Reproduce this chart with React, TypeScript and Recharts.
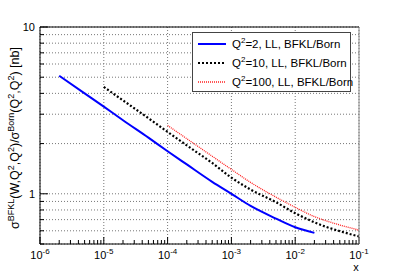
import { CartesianGrid, Legend, Line, LineChart, XAxis, YAxis } from 'recharts';

const xValues = [2e-6, 5e-6, 1e-5, 2e-5, 5e-5, 1e-4, 2e-4, 5e-4, 1e-3, 2e-3, 5e-3, 1e-2, 2e-2, 3e-2, 5e-2, 1e-1];
const q2Values = [5.1, 4.0, 3.33, 2.76, 2.17, 1.8, 1.5, 1.18, 1.0, 0.845, 0.71, 0.63, 0.583, null, null, null];
const q10Values = [null, null, 4.37, 3.63, 2.84, 2.35, 1.95, 1.53, 1.25, 1.06, 0.89, 0.765, 0.675, 0.635, 0.597, 0.555];
const q100Values = [null, null, null, null, null, 2.57, 2.14, 1.68, 1.4, 1.17, 0.955, 0.83, 0.73, 0.69, 0.65, 0.605];

const xDecades = [1e-6, 1e-5, 1e-4, 1e-3, 1e-2, 1e-1];
const xTicks = [
  1e-6, 2e-6, 3e-6, 4e-6, 5e-6, 6e-6, 7e-6, 8e-6, 9e-6,
  1e-5, 2e-5, 3e-5, 4e-5, 5e-5, 6e-5, 7e-5, 8e-5, 9e-5,
  1e-4, 2e-4, 3e-4, 4e-4, 5e-4, 6e-4, 7e-4, 8e-4, 9e-4,
  1e-3, 2e-3, 3e-3, 4e-3, 5e-3, 6e-3, 7e-3, 8e-3, 9e-3,
  1e-2, 2e-2, 3e-2, 4e-2, 5e-2, 6e-2, 7e-2, 8e-2, 9e-2,
  1e-1,
];
const yTicks = [0.5, 0.6, 0.7, 0.8, 0.9, 1, 2, 3, 4, 5, 6, 7, 8, 9, 10];
const yLabels = [1, 10];

const series = [
  { key: 'q2', label: '=2, LL, BFKL/Born', color: '#0000ff', width: 2, dash: undefined },
  { key: 'q10', label: '=10, LL, BFKL/Born', color: '#000000', width: 2.2, dash: '2 2' },
  { key: 'q100', label: '=100, LL, BFKL/Born', color: '#ff2020', width: 1.3, dash: '1 1' },
];

const data = xValues.map((x, i) => ({ x, q2: q2Values[i], q10: q10Values[i], q100: q100Values[i] }));

const isDecade = (v: number) => Math.abs(Math.log10(v) - Math.round(Math.log10(v))) < 1e-6;

function XTick({ x, y, payload }: any) {
  const v = payload.value;
  const major = isDecade(v);
  return (
    <g>
      <line x1={x} x2={x} y1={y} y2={y - (major ? 7 : 4)} stroke="#000" />
      {major && (
        <text x={x} y={y + 15} textAnchor="middle" fontSize={11} fill="#000">
          10<tspan dy={-5} fontSize={8}>{Math.round(Math.log10(v))}</tspan>
        </text>
      )}
    </g>
  );
}

function YTick({ x, y, payload }: any) {
  const v = payload.value;
  const major = isDecade(v);
  return (
    <g>
      <line x1={x} x2={x + (major ? 8 : 4)} y1={y} y2={y} stroke="#000" />
      {yLabels.includes(v) && (
        <text x={x - 5} y={y + 4} textAnchor="end" fontSize={11} fill="#000">
          {v}
        </text>
      )}
    </g>
  );
}

function LegendBox() {
  return (
    <div style={{ border: '1px solid #444', background: '#fff', width: 159, height: 60, boxSizing: 'border-box', padding: '1px 0 0 4px' }}>
      {series.map((s) => (
        <div key={s.key} style={{ display: 'flex', alignItems: 'center', height: 19, fontSize: 11.5, color: '#000', whiteSpace: 'nowrap' }}>
          <svg width={30} height={6} style={{ marginRight: 5, flex: 'none' }}>
            <line x1={1} x2={29} y1={3} y2={3} stroke={s.color} strokeWidth={s.width} strokeDasharray={s.dash} />
          </svg>
          <span>
            Q<sup style={{ fontSize: 8, lineHeight: 0 }}>2</sup>
            {s.label}
          </span>
        </div>
      ))}
    </div>
  );
}

export default function App() {
  return (
    <div style={{ position: 'fixed', left: 0, top: 0, width: 399, height: 272, background: '#fff', fontFamily: '"Liberation Sans", Arial, sans-serif' }}>
      <LineChart width={399} height={272} data={data} margin={{ top: 27, right: 40, bottom: 0, left: 0 }}>
        <CartesianGrid stroke="#777" strokeDasharray="1 2" verticalValues={xDecades} horizontalValues={yTicks} />
        <XAxis
          dataKey="x"
          type="number"
          scale="log"
          domain={[1e-6, 1e-1]}
          ticks={xTicks}
          interval={0}
          height={28}
          tickSize={0}
          tickMargin={0}
          tick={<XTick />}
          stroke="#000"
          allowDataOverflow
        />
        <YAxis
          type="number"
          scale="log"
          domain={[0.5, 10]}
          ticks={yTicks}
          interval={0}
          width={40}
          tickSize={0}
          tickMargin={0}
          tick={<YTick />}
          stroke="#000"
          allowDataOverflow
        />
        <Legend
          layout="horizontal"
          verticalAlign="middle"
          align="center"
          content={<LegendBox />}
          wrapperStyle={{ position: 'absolute', left: 192, top: 32, width: 160, height: 60 }}
        />
        {series.map((s) => (
          <Line
            key={s.key}
            dataKey={s.key}
            type="monotone"
            stroke={s.color}
            strokeWidth={s.width}
            strokeDasharray={s.dash}
            dot={false}
            isAnimationActive={false}
          />
        ))}
      </LineChart>
      <svg width={399} height={272} style={{ position: 'absolute', left: 0, top: 0, pointerEvents: 'none' }}>
        <line x1={40} x2={359} y1={27} y2={27} stroke="#000" />
        <line x1={359} x2={359} y1={27} y2={244} stroke="#888" />
        <text transform="translate(19,138) rotate(-90)" textAnchor="middle" fontSize={12.5} fill="#000">
          σ<tspan dy={-5} fontSize={9}>BFKL</tspan>
          <tspan dy={5}>(W,Q</tspan>
          <tspan dy={-5} fontSize={9}>2</tspan>
          <tspan dy={5}>,Q</tspan>
          <tspan dy={-5} fontSize={9}>2</tspan>
          <tspan dy={5}>)/σ</tspan>
          <tspan dy={-5} fontSize={9}>Born</tspan>
          <tspan dy={5}>(Q</tspan>
          <tspan dy={-5} fontSize={9}>2</tspan>
          <tspan dy={5}>,Q</tspan>
          <tspan dy={-5} fontSize={9}>2</tspan>
          <tspan dy={5}>)  [nb]</tspan>
        </text>
        <text x={356} y={271} textAnchor="middle" fontSize={11} fill="#000">
          x
        </text>
      </svg>
    </div>
  );
}
